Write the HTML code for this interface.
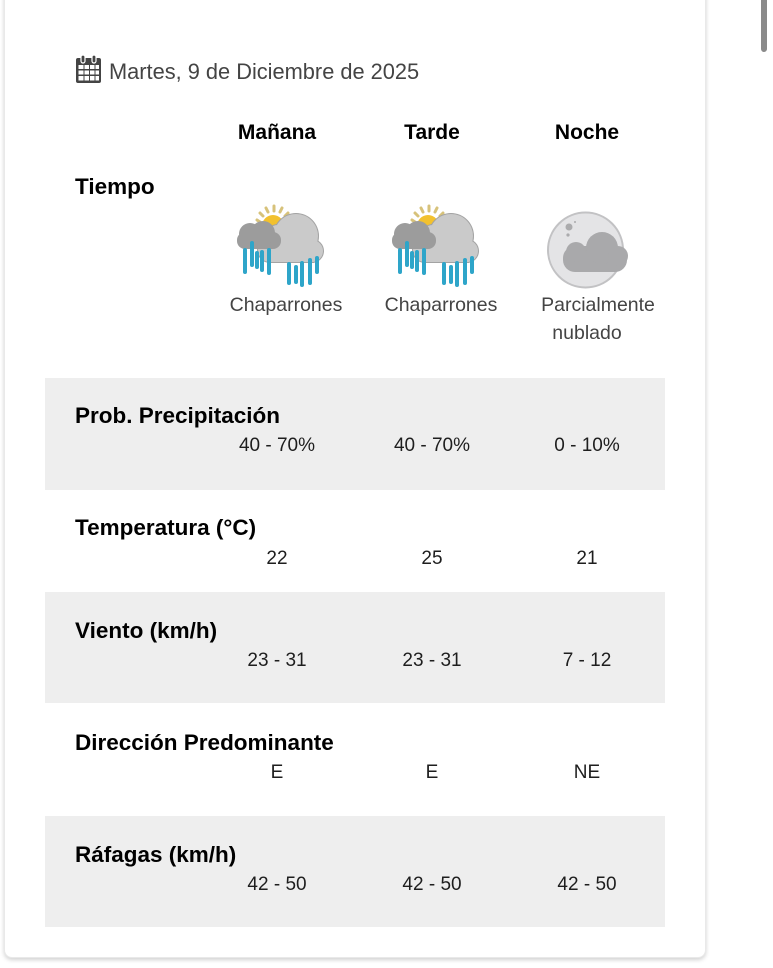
<!DOCTYPE html>
<html><head><meta charset="utf-8">
<style>
html,body{margin:0;padding:0;background:#fff;}
body{width:773px;height:968px;position:relative;overflow:hidden;font-family:"Liberation Sans",Arial,sans-serif;}
.card{position:absolute;left:4px;top:-20px;width:700px;height:976px;background:#fff;border:1px solid #e9e9e9;border-radius:8px;box-shadow:0 2px 4px rgba(0,0,0,0.18);}
.scroll{position:absolute;left:761px;top:0;width:6px;height:52px;background:#8a8a8a;border-radius:0 0 3px 3px;}
.t{position:absolute;white-space:nowrap;line-height:24px;height:24px;}
.row{position:absolute;left:45px;width:620px;background:#eeeeee;}
.lab{font-weight:bold;font-size:22.5px;color:#000;left:75px;}
.hd{font-weight:bold;font-size:21px;color:#000;width:160px;text-align:center;}
.val{font-size:19px;color:#1e1e1e;width:160px;text-align:center;}
.cap{font-size:19.5px;color:#444;width:160px;text-align:center;}
svg{position:absolute;}
</style></head><body>
<div class="card"></div>
<div class="scroll"></div>

<div class="row" style="top:378px;height:112px;"></div>
<div class="row" style="top:592px;height:111px;"></div>
<div class="row" style="top:816px;height:111px;"></div>

<!-- calendar icon -->
<svg style="left:75px;top:54px" width="28" height="30" viewBox="0 0 28 30">
  <rect x="1" y="4" width="25" height="25" rx="2" fill="#444"/>
  <rect x="3.5" y="11" width="5" height="4" fill="#fff"/>
  <rect x="9.5" y="11" width="4.5" height="4" fill="#fff"/>
  <rect x="15" y="11" width="4.5" height="4" fill="#fff"/>
  <rect x="20.5" y="11" width="3.5" height="4" fill="#fff"/>
  <rect x="3.5" y="16.5" width="5" height="4" fill="#fff"/>
  <rect x="9.5" y="16.5" width="4.5" height="4" fill="#fff"/>
  <rect x="15" y="16.5" width="4.5" height="4" fill="#fff"/>
  <rect x="20.5" y="16.5" width="3.5" height="4" fill="#fff"/>
  <rect x="3.5" y="22" width="5" height="4.5" fill="#fff"/>
  <rect x="9.5" y="22" width="4.5" height="4.5" fill="#fff"/>
  <rect x="15" y="22" width="4.5" height="4.5" fill="#fff"/>
  <rect x="20.5" y="22" width="3.5" height="4.5" fill="#fff"/>
  <rect x="6" y="1" width="4" height="8" rx="2" fill="#444" stroke="#fff" stroke-width="1.2"/>
  <rect x="17" y="1" width="4" height="8" rx="2" fill="#444" stroke="#fff" stroke-width="1.2"/>
</svg>
<div class="t" style="left:109px;top:60px;font-size:21.8px;color:#444;">Martes, 9 de Diciembre de 2025</div>

<div class="t hd" style="left:197px;top:121px;">Mañana</div>
<div class="t hd" style="left:352px;top:121px;">Tarde</div>
<div class="t hd" style="left:507px;top:121px;">Noche</div>

<div class="t lab" style="top:175px;">Tiempo</div>

<!-- showers icon 1 -->
<svg style="left:230px;top:200px" width="100" height="90" viewBox="0 0 100 90">
  <g stroke="#d7c27a" stroke-width="3" stroke-linecap="round">
    <line x1="30" y1="22" x2="27" y2="20"/>
    <line x1="33" y1="16" x2="30" y2="13"/>
    <line x1="38" y1="12" x2="36" y2="8"/>
    <line x1="44" y1="11" x2="44" y2="6"/>
    <line x1="50" y1="12" x2="52" y2="8"/>
    <line x1="55" y1="16" x2="58" y2="13"/>
  </g>
  <circle cx="43" cy="26" r="11" fill="#f2c12e"/>
  <g fill="#a3a3a3">
    <circle cx="66" cy="36" r="23"/><circle cx="48" cy="38" r="14"/><circle cx="82" cy="51" r="12"/><circle cx="40" cy="50" r="13"/><rect x="38" y="40" width="46" height="23"/>
  </g>
  <g fill="#cacaca">
    <circle cx="66" cy="36" r="22"/><circle cx="48" cy="38" r="13"/><circle cx="82" cy="51" r="11"/><circle cx="40" cy="50" r="12"/><rect x="38" y="40" width="46" height="22"/>
  </g>
  <g fill="#9c9c9c">
    <rect x="7" y="32" width="44" height="17" rx="8"/><circle cx="20" cy="34" r="11"/><circle cx="33" cy="33" r="12"/>
  </g>
  <g stroke="#2ea5c9" stroke-width="4" stroke-linecap="round">
    <line x1="15" y1="50" x2="15" y2="72"/><line x1="22" y1="43" x2="22" y2="65"/><line x1="27" y1="53" x2="27" y2="67"/><line x1="32" y1="52" x2="32" y2="70"/><line x1="39" y1="50" x2="39" y2="73"/>
    <line x1="59" y1="64" x2="59" y2="83"/><line x1="66" y1="67" x2="66" y2="82"/><line x1="72" y1="63" x2="72" y2="85"/><line x1="80" y1="60" x2="80" y2="83"/><line x1="87" y1="58" x2="87" y2="72"/>
  </g>
</svg>
<!-- showers icon 2 -->
<svg style="left:385px;top:200px" width="100" height="90" viewBox="0 0 100 90">
  <g stroke="#d7c27a" stroke-width="3" stroke-linecap="round">
    <line x1="30" y1="22" x2="27" y2="20"/>
    <line x1="33" y1="16" x2="30" y2="13"/>
    <line x1="38" y1="12" x2="36" y2="8"/>
    <line x1="44" y1="11" x2="44" y2="6"/>
    <line x1="50" y1="12" x2="52" y2="8"/>
    <line x1="55" y1="16" x2="58" y2="13"/>
  </g>
  <circle cx="43" cy="26" r="11" fill="#f2c12e"/>
  <g fill="#a3a3a3">
    <circle cx="66" cy="36" r="23"/><circle cx="48" cy="38" r="14"/><circle cx="82" cy="51" r="12"/><circle cx="40" cy="50" r="13"/><rect x="38" y="40" width="46" height="23"/>
  </g>
  <g fill="#cacaca">
    <circle cx="66" cy="36" r="22"/><circle cx="48" cy="38" r="13"/><circle cx="82" cy="51" r="11"/><circle cx="40" cy="50" r="12"/><rect x="38" y="40" width="46" height="22"/>
  </g>
  <g fill="#9c9c9c">
    <rect x="7" y="32" width="44" height="17" rx="8"/><circle cx="20" cy="34" r="11"/><circle cx="33" cy="33" r="12"/>
  </g>
  <g stroke="#2ea5c9" stroke-width="4" stroke-linecap="round">
    <line x1="15" y1="50" x2="15" y2="72"/><line x1="22" y1="43" x2="22" y2="65"/><line x1="27" y1="53" x2="27" y2="67"/><line x1="32" y1="52" x2="32" y2="70"/><line x1="39" y1="50" x2="39" y2="73"/>
    <line x1="59" y1="64" x2="59" y2="83"/><line x1="66" y1="67" x2="66" y2="82"/><line x1="72" y1="63" x2="72" y2="85"/><line x1="80" y1="60" x2="80" y2="83"/><line x1="87" y1="58" x2="87" y2="72"/>
  </g>
</svg>
<!-- moon icon -->
<svg style="left:540px;top:200px" width="100" height="92" viewBox="0 0 100 92">
  <circle cx="45.5" cy="50" r="37.5" fill="#e4e4e6" stroke="#c2c2c4" stroke-width="2"/>
  <circle cx="29" cy="27" r="3.5" fill="#ababad"/>
  <circle cx="28" cy="35" r="1.6" fill="#ababad"/>
  <circle cx="35" cy="22" r="1" fill="#ababad"/>
  <g fill="#a9a9ab">
    <rect x="23" y="46" width="64" height="26" rx="12"/>
    <circle cx="62" cy="48" r="16"/>
    <circle cx="36" cy="52" r="10"/>
    <circle cx="78" cy="56" r="10"/>
  </g>
</svg>

<div class="t cap" style="left:206px;top:293px;">Chaparrones</div>
<div class="t cap" style="left:361px;top:293px;">Chaparrones</div>
<div class="t cap" style="left:518px;top:293px;">Parcialmente</div>
<div class="t cap" style="left:507px;top:321px;">nublado</div>

<div class="t lab" style="top:404px;">Prob. Precipitación</div>
<div class="t val" style="left:197px;top:434px;">40 - 70%</div>
<div class="t val" style="left:352px;top:434px;">40 - 70%</div>
<div class="t val" style="left:507px;top:434px;">0 - 10%</div>

<div class="t lab" style="top:516px;">Temperatura (°C)</div>
<div class="t val" style="left:197px;top:547px;">22</div>
<div class="t val" style="left:352px;top:547px;">25</div>
<div class="t val" style="left:507px;top:547px;">21</div>

<div class="t lab" style="top:619px;">Viento (km/h)</div>
<div class="t val" style="left:197px;top:649px;">23 - 31</div>
<div class="t val" style="left:352px;top:649px;">23 - 31</div>
<div class="t val" style="left:507px;top:649px;">7 - 12</div>

<div class="t lab" style="top:731px;">Dirección Predominante</div>
<div class="t val" style="left:197px;top:761px;">E</div>
<div class="t val" style="left:352px;top:761px;">E</div>
<div class="t val" style="left:507px;top:761px;">NE</div>

<div class="t lab" style="top:843px;">Ráfagas (km/h)</div>
<div class="t val" style="left:197px;top:873px;">42 - 50</div>
<div class="t val" style="left:352px;top:873px;">42 - 50</div>
<div class="t val" style="left:507px;top:873px;">42 - 50</div>
</body></html>
